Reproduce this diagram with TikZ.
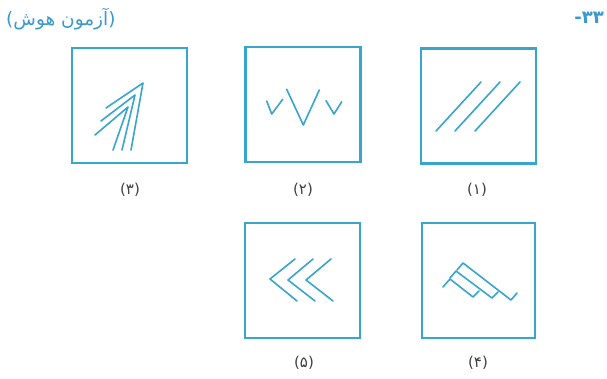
\documentclass[tikz,border=0pt]{standalone}
\usepackage{fontspec}
\newfontfamily\arabicfont[Script=Arabic]{DejaVu Sans}
\TeXXeTstate=1
\definecolor{fig}{HTML}{38A5CC}
\definecolor{head}{HTML}{3A9AD0}
\begin{document}
\begin{tikzpicture}[x=1pt,y=-1pt,
  box/.style={draw=fig,line width=2.2pt,minimum width=#1,minimum height=115pt,inner sep=0pt},
  box/.default=115pt,
  ln/.style={draw=fig,line width=1.6pt,line cap=round,line join=round},
  lab/.style={font=\arabicfont\fontsize{15}{17}\selectfont,text=black!75,inner sep=0pt},
  hd/.style={font=\arabicfont\fontsize{18.5}{21}\selectfont,text=head,inner sep=0pt}]
\useasboundingbox (0,0) rectangle (607,378);
\fill[white] (0,0) rectangle (607,378);
% header
\node[hd,anchor=west] (title) at (6,19) {\beginR(آزمون هوش)\endR};
\node[hd,anchor=east,font=\arabicfont\bfseries\fontsize{18}{20}\selectfont] (num) at (604,18) {\hbox{-}\hbox{۳۳}};
% boxes
\node[box] (b3) at (129.5,105.5) {};
\node[box] (b2) at (303,104.5) {};
\node[box] (b1) at (478.5,106) {};
\node[box] (b5) at (302.5,280.5) {};
\node[box=113pt] (b4) at (478.5,280.5) {};
% labels
\node[lab] (l3) at (130,190) {(۳)};
\node[lab] (l2) at (303,190) {(۲)};
\node[lab] (l1) at (477,190) {(۱)};
\node[lab] (l5) at (304,363) {(۵)};
\node[lab] (l4) at (478,363) {(۴)};
% box 1: three diagonal lines
\draw[ln] (436,131) -- (481,82);
\draw[ln] (455,131) -- (500,82);
\draw[ln] (475,131) -- (520,82);
% box 2: v V v
\draw[ln] (266.7,101) -- (271.7,114) -- (282.7,99.3);
\draw[ln] (286.7,89.3) -- (303.3,125) -- (319.3,90);
\draw[ln] (326,100.7) -- (334,114) -- (341.7,101.7);
% box 3: nested arrow heads
\draw[ln] (106,108) -- (143,83) -- (131,150);
\draw[ln] (101,121) -- (135,95) -- (122,150);
\draw[ln] (95,135) -- (128,107) -- (113,150);
% box 4: stepped stripes
\draw[ln] (457,270) -- (463,263) -- (511,300) -- (517,293);
\draw[ln] (450,278) -- (456,271) -- (492,298) -- (498,292);
\draw[ln] (443,287) -- (450,279) -- (473,297) -- (479,291);
% box 5: three chevrons
\draw[ln] (295,259) -- (270,279) -- (297,301);
\draw[ln] (313,259) -- (288,280) -- (315,301);
\draw[ln] (331,259) -- (306,280) -- (333,301);
\end{tikzpicture}
\end{document}
